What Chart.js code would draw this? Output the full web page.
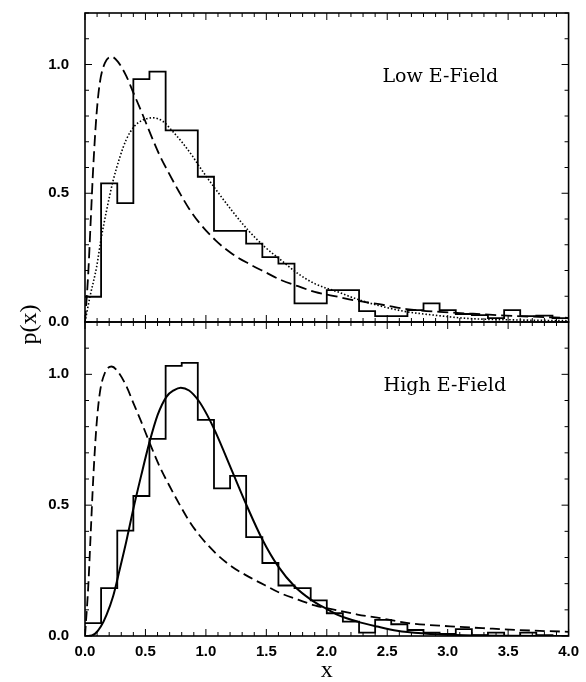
<!DOCTYPE html>
<html>
<head>
<meta charset="utf-8">
<script src="https://cdn.jsdelivr.net/npm/chart.js@4.4.1/dist/chart.umd.min.js"></script>
<style>
  html, body { margin: 0; padding: 0; background: #fff; }
  #wrap { position: relative; width: 586px; height: 682px; }
</style>
</head>
<body>
<div id="wrap"><canvas id="pdf" width="586" height="682"></canvas></div>
<script>
// histogram bins (left edges + final right edge)
var binEdges = [0, 0.133, 0.267, 0.4, 0.533, 0.667, 0.8, 0.933, 1.067, 1.2, 1.333, 1.467, 1.6, 1.733, 1.867,
                2.0, 2.133, 2.267, 2.4, 2.533, 2.667, 2.8, 2.933, 3.067, 3.2, 3.333, 3.467, 3.6, 3.733, 3.867, 4.0];
var lowFieldHist = [0.098, 0.538, 0.462, 0.943, 0.972, 0.744, 0.744, 0.564, 0.354, 0.354, 0.304, 0.252, 0.227, 0.072, 0.072,
                    0.124, 0.124, 0.042, 0.023, 0.023, 0.046, 0.072, 0.046, 0.031, 0.027, 0.015, 0.046, 0.023, 0.025, 0.015];
var highFieldHist = [0.049, 0.183, 0.403, 0.535, 0.753, 1.032, 1.044, 0.826, 0.564, 0.612, 0.378, 0.279, 0.193, 0.183, 0.136,
                     0.087, 0.055, 0.013, 0.062, 0.045, 0.023, 0.013, 0.008, 0.026, 0.003, 0.013, 0, 0.013, 0.003, 0];

// dashed curve (same in both panels)
var dashX = [0, 0.027, 0.047, 0.068, 0.096, 0.123, 0.164, 0.22, 0.273, 0.342, 0.396, 0.464, 0.533, 0.615, 0.697, 0.779,
             0.861, 0.943, 1.08, 1.216, 1.352, 1.489, 1.625, 1.762, 1.9, 2.09, 2.254, 2.47, 2.66, 3.02, 3.29, 3.57, 4.0];
var dashY = [0, 0.19, 0.39, 0.6, 0.81, 0.93, 1.005, 1.03, 1.01, 0.955, 0.895, 0.82, 0.74, 0.65, 0.575, 0.505,
             0.44, 0.387, 0.317, 0.265, 0.227, 0.194, 0.162, 0.139, 0.117, 0.098, 0.082, 0.066, 0.05, 0.037, 0.03, 0.023, 0.016];

// dotted curve (low field)
var dotX = [0, 0.041, 0.096, 0.131, 0.178, 0.232, 0.287, 0.342, 0.41, 0.478, 0.56, 0.642, 0.724, 0.806, 0.888, 0.943,
            1.01, 1.08, 1.216, 1.352, 1.489, 1.625, 1.762, 1.9, 2.09, 2.254, 2.47, 2.66, 2.88, 3.16, 3.57, 4.0];
var dotY = [0, 0.098, 0.214, 0.317, 0.432, 0.548, 0.638, 0.709, 0.761, 0.784, 0.793, 0.78, 0.741, 0.696, 0.645, 0.606,
            0.561, 0.516, 0.432, 0.355, 0.291, 0.239, 0.188, 0.149, 0.117, 0.088, 0.059, 0.04, 0.027, 0.014, 0.008, 0.005];

// solid curve (high field)
var solidX = [0, 0.027, 0.082, 0.131, 0.178, 0.232, 0.287, 0.342, 0.396, 0.464, 0.533, 0.601, 0.675, 0.738, 0.792, 0.861,
              0.943, 1.01, 1.08, 1.216, 1.339, 1.467, 1.598, 1.735, 1.871, 2.0, 2.09, 2.254, 2.418, 2.582, 2.8, 3.07, 3.5, 4.0];
var solidY = [0, 0, 0.008, 0.036, 0.081, 0.151, 0.254, 0.362, 0.478, 0.612, 0.74, 0.845, 0.915, 0.94, 0.949, 0.938,
              0.897, 0.845, 0.779, 0.631, 0.497, 0.369, 0.266, 0.189, 0.138, 0.103, 0.081, 0.055, 0.036, 0.02, 0.01, 0.004, 0.001, 0];

var xTickValues = [0, 0.5, 1.0, 1.5, 2.0, 2.5, 3.0, 3.5, 4.0];
var yTickValues = [0, 0.5, 1.0];
var panelLabels = ['Low E-Field', 'High E-Field'];

function pts(xs, ys) {
    return xs.map(function (x, i) { return { x: x, y: ys[i] }; });
}
function histPts(vals) {
    return binEdges.map(function (x, i) { return { x: x, y: vals[Math.min(i, vals.length - 1)] }; });
}

var tickFont = { family: 'Liberation Sans', size: 15, weight: 'bold' };

function yAxis(weight, stackWeight) {
    return {
        type: 'linear', position: 'left', stack: 'panels', weight: weight, stackWeight: stackWeight,
        min: 0, max: 1.2,
        afterBuildTicks: function (s) { s.ticks = yTickValues.map(function (v) { return { value: v }; }); },
        afterFit: function (s) { s.width = 85; s.paddingTop = 0; s.paddingBottom = 0; },
        ticks: { font: tickFont, color: '#000', padding: 16, callback: function (v) { return Number(v).toFixed(1); } },
        grid: { display: false, drawTicks: false },
        border: { display: false }
    };
}

var panelFrame = {
    id: 'panelFrame',
    afterDatasetsDraw: function (chart) {
        var c = chart.ctx, xs = chart.scales.x, area = chart.chartArea;
        function seg(x1, y1, x2, y2) { c.beginPath(); c.moveTo(x1, y1); c.lineTo(x2, y2); c.stroke(); }
        c.save();
        c.strokeStyle = '#000';
        ['yTop', 'yBot'].forEach(function (id) {
            var ys = chart.scales[id];
            c.lineWidth = 1;
            for (var i = 0; i <= 40; i++) {
                var px = xs.getPixelForValue(i / 10), len = (i % 5 === 0) ? 7 : 4;
                seg(px, ys.top, px, ys.top + len);
                seg(px, ys.bottom, px, ys.bottom - len);
            }
            for (var j = 0; j <= 12; j++) {
                var py = ys.getPixelForValue(j / 10), l2 = (j % 5 === 0) ? 7 : 4;
                seg(area.left, py, area.left + l2, py);
                seg(area.right, py, area.right - l2, py);
            }
            c.lineWidth = 1.6;
            c.strokeRect(area.left, ys.top, area.right - area.left, ys.bottom - ys.top);
        });
        c.restore();
    },
    afterDraw: function (chart) {
        var c = chart.ctx, xs = chart.scales.x;
        c.save();
        c.fillStyle = '#000';
        c.font = '19px "DejaVu Serif"';
        c.textAlign = 'left';
        c.textBaseline = 'middle';
        c.fillText(panelLabels[0], xs.getPixelForValue(2.46), chart.scales.yTop.getPixelForValue(0.95));
        c.fillText(panelLabels[1], xs.getPixelForValue(2.47), chart.scales.yBot.getPixelForValue(0.955));
        // shared y title
        c.font = '24px "Liberation Serif"';
        c.textAlign = 'center';
        c.translate(30, (chart.chartArea.top + chart.chartArea.bottom) / 2);
        c.rotate(-Math.PI / 2);
        c.fillText('p(x)', 0, 0);
        c.restore();
    }
};

var line = function (data, axis, extra) {
    var ds = {
        data: data, yAxisID: axis, showLine: true, fill: false,
        borderColor: '#000', borderWidth: 1.6, pointRadius: 0,
        cubicInterpolationMode: 'monotone', tension: 0.4
    };
    for (var k in extra) ds[k] = extra[k];
    return ds;
};

var ctx = document.getElementById('pdf').getContext('2d');
new Chart(ctx, {
    type: 'scatter',
    data: {
        datasets: [
            line(histPts(lowFieldHist), 'yTop', { stepped: 'before', borderWidth: 1.8, tension: 0 }),
            line(pts(dashX, dashY), 'yTop', { borderDash: [11, 5], borderWidth: 1.8 }),
            line(pts(dotX, dotY), 'yTop', { borderDash: [1.5, 2], borderWidth: 1.6 }),
            line(histPts(highFieldHist), 'yBot', { stepped: 'before', borderWidth: 1.8, tension: 0 }),
            line(pts(dashX, dashY), 'yBot', { borderDash: [10, 5], borderWidth: 1.8 }),
            line(pts(solidX, solidY), 'yBot', { borderWidth: 2 })
        ]
    },
    options: {
        responsive: false,
        animation: false,
        layout: { padding: { top: 13, right: 13, left: 0, bottom: 0 } },
        plugins: { legend: { display: false }, tooltip: { enabled: false } },
        scales: {
            x: {
                type: 'linear', min: 0, max: 4,
                afterBuildTicks: function (s) { s.ticks = xTickValues.map(function (v) { return { value: v }; }); },
                afterFit: function (s) { s.height = 46; },
                ticks: { font: tickFont, color: '#000', padding: 7, maxRotation: 0,
                         callback: function (v) { return Number(v).toFixed(1); } },
                grid: { display: false, drawTicks: false },
                border: { display: false },
                title: { display: true, text: 'x', color: '#000', padding: { top: 0, bottom: -3 },
                         font: { family: 'Liberation Serif', size: 24 } }
            },
            yBot: yAxis(1, 314),
            yTop: yAxis(2, 309)
        }
    },
    plugins: [panelFrame]
});
</script>
</body>
</html>
